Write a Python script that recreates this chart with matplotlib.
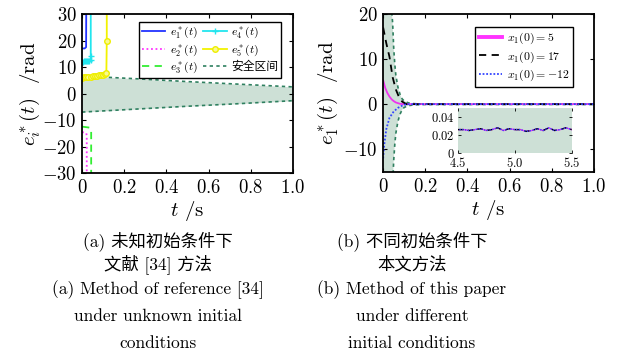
import numpy as np
import matplotlib
matplotlib.use("Agg")
from matplotlib import pyplot as plt

plt.rcParams['mathtext.fontset'] = 'cm'
plt.rcParams['font.family'] = ['cmr10', 'Noto Sans CJK SC', 'DejaVu Sans']
plt.rcParams['axes.unicode_minus'] = False

# ---- panel (a): method of ref [34] ----
a_band_t = [0, 0.25, 0.5, 0.75, 1.0]
a_band_up = [6.6, 5.6, 4.5, 3.5, 2.5]
a_band_lo = [-7.0, -5.9, -4.8, -3.8, -2.7]

e1_t = [0, 0.003, 0.006, 0.012, 0.019, 0.02]
e1_v = [17, 17, 17, 17, 17.5, 40]
e2_t = [0, 0.01, 0.02, 0.022, 0.022]
e2_v = [-14.5, -14.8, -15, -16, -40]
e3_t = [0, 0.01, 0.02, 0.03, 0.04, 0.043, 0.043]
e3_v = [-12.5, -12.6, -12.7, -12.8, -13, -13.5, -40]
e4_t = [0, 0.005, 0.01, 0.015, 0.02, 0.025, 0.03, 0.035, 0.04, 0.041, 0.041]
e4_v = [12, 12, 12.1, 12.1, 12.2, 12.2, 12.3, 12.4, 12.5, 14, 40]
e5_t = [0, 0.01, 0.02, 0.03, 0.04, 0.05, 0.06, 0.07, 0.08, 0.09, 0.10, 0.11, 0.115, 0.117, 0.117]
e5_v = [6.0, 6.1, 6.2, 6.3, 6.4, 6.5, 6.6, 6.7, 6.8, 6.9, 7.0, 7.2, 7.6, 20, 40]

# ---- panel (b): this paper ----
b_band_t = [0, 0.01, 0.02, 0.03, 0.04, 0.045, 0.05, 0.055, 0.06, 0.07, 0.08,
            0.09, 0.1, 0.12, 0.15, 0.2, 0.5, 1.0, 6.0]
b_band_up = [80, 55, 38, 27, 21, 18, 12.5, 9, 6.5, 3.8, 2.2, 1.2, 0.7, 0.3,
             0.12, 0.06, 0.05, 0.05, 0.05]

x5_t = [0, 0.01, 0.02, 0.03, 0.04, 0.05, 0.06, 0.08, 0.1, 0.12]
x5_v = [5.3, 3.6, 2.5, 1.7, 1.1, 0.7, 0.4, 0.1, 0.03, 0.026]
x17_t = [0, 0.015, 0.03, 0.045, 0.06, 0.075, 0.09, 0.11, 0.12]
x17_v = [17, 13.5, 10.5, 6, 3.3, 1.6, 0.6, 0.03, 0.026]
xm12_t = [0, 0.005, 0.015, 0.03, 0.05, 0.07, 0.09, 0.11, 0.12]
xm12_v = [-12, -9, -5.5, -3, -1.6, -0.8, -0.3, 0.0, 0.026]

# steady part (also shown in the inset)
ss_t = [1.0, 4.5, 4.55, 4.6, 4.65, 4.7, 4.75, 4.8, 4.85, 4.9, 4.95, 5.0, 5.05,
        5.1, 5.15, 5.2, 5.25, 5.3, 5.35, 5.4, 5.45, 5.5]
ss_v = [0.026, 0.026, 0.026, 0.025, 0.026, 0.027, 0.025, 0.026, 0.028, 0.025,
        0.027, 0.026, 0.026, 0.024, 0.025, 0.027, 0.025, 0.028, 0.025, 0.026,
        0.028, 0.026]

x_ticks = [0, 0.2, 0.4, 0.6, 0.8, 1.0]
x_labels = ['$0$', '$0.2$', '$0.4$', '$0.6$', '$0.8$', '$1.0$']

fill_c = '#cde0d6'
bound_c = '#2f8060'
tick_fs = 13.5

fig = plt.figure(figsize=(6.22, 3.59), dpi=100)
ax1 = fig.add_axes([0.132, 0.518, 0.339, 0.443])
ax2 = fig.add_axes([0.616, 0.521, 0.339, 0.440])

for ax in (ax1, ax2):
    ax.tick_params(direction='in', top=True, right=True, labelsize=tick_fs,
                   length=3, width=0.8, pad=4)
    for s in ax.spines.values():
        s.set_linewidth(1.3)
    ax.set_xlim(0, 1)
    ax.set_xticks(x_ticks)
    ax.set_xticklabels(x_labels)
    ax.set_xlabel('$t$ /s', fontsize=15, labelpad=2)

# panel (a)
ax1.fill_between(a_band_t, a_band_lo, a_band_up, color=fill_c, lw=0)
l_safe, = ax1.plot(a_band_t, a_band_up, color=bound_c, ls=(0, (2, 2)), lw=1.2)
ax1.plot(a_band_t, a_band_lo, color=bound_c, ls=(0, (2, 2)), lw=1.2)
l1, = ax1.plot(e1_t, e1_v, color='#2233ff', lw=1.3)
l2, = ax1.plot(e2_t, e2_v, color='#ff33ff', ls=(0, (1, 1.5)), lw=1.3)
l3, = ax1.plot(e3_t, e3_v, color='#33ee33', ls=(0, (4, 3)), lw=1.3)
l4, = ax1.plot(e4_t, e4_v, color='#22e5ee', lw=1.3, marker='+', ms=5)
l5, = ax1.plot(e5_t, e5_v, color='#f2f200', lw=1.3, marker='o', ms=4,
               mfc='#fafa90', mec='#eeee00')
ax1.set_ylim(-30, 30)
ax1.set_yticks([-30, -20, -10, 0, 10, 20, 30])
ax1.set_yticklabels(['$-30$', '$-20$', '$-10$', '$0$', '$10$', '$20$', '$30$'])
ax1.set_ylabel('$e_i^*(t)$  /rad', fontsize=15, labelpad=0)
leg1 = ax1.legend([l1, l2, l3, l4, l5, l_safe],
                  ['$e_1^*(t)$', '$e_2^*(t)$', '$e_3^*(t)$', '$e_4^*(t)$',
                   '$e_5^*(t)$', '安全区间'],
                  ncol=2, loc='upper right', bbox_to_anchor=(0.945, 0.95),
                  borderaxespad=0, fontsize=8.5, fancybox=False,
                  edgecolor='black', framealpha=1, handlelength=2.0,
                  columnspacing=0.4, handletextpad=0.4, labelspacing=0.2,
                  borderpad=0.25)
leg1.get_frame().set_linewidth(1.0)

# panel (b)
b_band_lo = [-v for v in b_band_up]
ax2.fill_between(b_band_t, b_band_lo, b_band_up, color=fill_c, lw=0)
ax2.plot(b_band_t, b_band_up, color=bound_c, ls=(0, (2, 2)), lw=1.2)
ax2.plot(b_band_t, b_band_lo, color=bound_c, ls=(0, (2, 2)), lw=1.2)
m1, = ax2.plot(x5_t + ss_t, x5_v + ss_v, color='#ee33ee', lw=1.3)
m2, = ax2.plot(x17_t + ss_t, x17_v + ss_v, color='black', ls=(0, (4, 3)), lw=1.3)
m3, = ax2.plot(xm12_t + ss_t, xm12_v + ss_v, color='#3344ff', ls=(0, (1, 1)), lw=1.3)
ax2.set_ylim(-15, 20)
ax2.set_yticks([-10, 0, 10, 20])
ax2.set_yticklabels(['$-10$', '$0$', '$10$', '$20$'])
ax2.set_ylabel('$e_1^*(t)$  /rad', fontsize=15, labelpad=2)
h1, = ax2.plot([], [], color='#ff33ff', lw=2.8)
leg2 = ax2.legend([h1, m2, m3],
                  ['$x_1(0)=5$', '$x_1(0)=17$', '$x_1(0)=-12$'],
                  loc='upper right', bbox_to_anchor=(0.90, 0.918),
                  borderaxespad=0, fontsize=8.5, fancybox=False,
                  edgecolor='black', framealpha=1, handlelength=2.0,
                  handletextpad=0.4, labelspacing=0.3, borderpad=0.3)
leg2.get_frame().set_linewidth(1.0)

# inset
axi = fig.add_axes([0.736, 0.574, 0.183, 0.125])
axi.fill_between(b_band_t, b_band_lo, b_band_up, color=fill_c, lw=0)
axi.plot(ss_t, ss_v, color='#ee33ee', lw=1.0)
axi.plot(ss_t, ss_v, color='black', ls=(0, (4, 3)), lw=1.0)
axi.plot(ss_t, ss_v, color='#3344ff', ls=(0, (1, 1)), lw=1.0)
axi.set_xlim(4.5, 5.5)
axi.set_ylim(0, 0.05)
axi.set_xticks([4.5, 5.0, 5.5])
axi.set_xticklabels(['$4.5$', '$5.0$', '$5.5$'])
axi.set_yticks([0, 0.02, 0.04])
axi.set_yticklabels(['$0$', '$0.02$', '$0.04$'])
axi.tick_params(direction='in', top=True, right=True, labelsize=9,
                length=2, width=0.6, pad=2)
for s in axi.spines.values():
    s.set_visible(False)

# captions
cap_fs = 12.5
capA = ['(a) 未知初始条件下', '文献 [34] 方法', '(a) Method of reference [34]',
        'under unknown initial', 'conditions']
capB = ['(b) 不同初始条件下', '本文方法', '(b) Method of this paper',
        'under different', 'initial conditions']
cap_y = [241, 264, 290, 316, 343]
for txt, yy in zip(capA, cap_y):
    fig.text(158 / 622, 1 - yy / 359, txt, ha='center', va='center', fontsize=cap_fs)
for txt, yy in zip(capB, cap_y):
    fig.text(412 / 622, 1 - yy / 359, txt, ha='center', va='center', fontsize=cap_fs)

fig.savefig('out.png', dpi=100)
